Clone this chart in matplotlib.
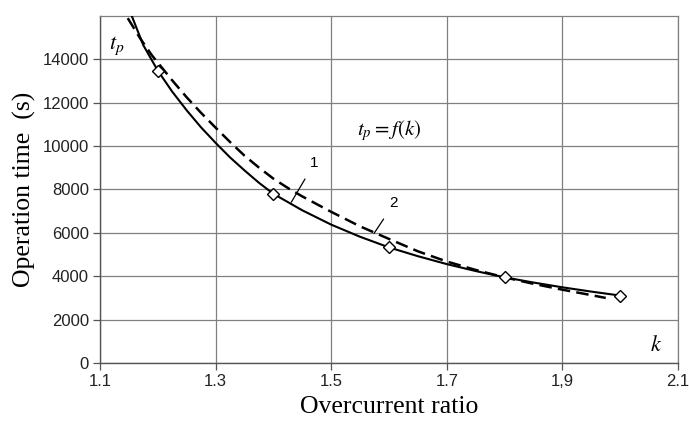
import matplotlib
matplotlib.use("Agg")
import matplotlib.pyplot as plt

# curve 1 (solid) and its marked points
k_solid = [1.155, 1.175, 1.2, 1.225, 1.25, 1.275, 1.3, 1.325, 1.35, 1.375, 1.4,
           1.45, 1.5, 1.55, 1.6, 1.65, 1.7, 1.75, 1.8, 1.85, 1.9, 1.95, 2.0]
t_solid = [16000, 14650, 13480, 12510, 11650, 10860, 10150, 9480, 8880, 8310, 7800,
           7040, 6380, 5820, 5330, 4925, 4560, 4240, 3950, 3710, 3490, 3292, 3110]

k_marks = [1.2, 1.4, 1.6, 1.8, 2.0]
t_marks = [13480, 7800, 5330, 3950, 3110]

# curve 2 (dashed)
k_dash = [1.148, 1.17, 1.19, 1.225, 1.25, 1.275, 1.3, 1.325, 1.35, 1.375, 1.4,
          1.425, 1.45, 1.5, 1.55, 1.6, 1.65, 1.7, 1.75, 1.8, 1.85, 1.9, 1.94, 1.975]
t_dash = [15900, 14950, 14180, 13030, 12250, 11530, 10850, 10190, 9560, 9010, 8500,
          8070, 7680, 6970, 6300, 5720, 5150, 4680, 4290, 3950, 3650, 3380, 3180, 3000]

x_ticks = [1.1, 1.3, 1.5, 1.7, 1.9, 2.1]
x_labels = ["1.1", "1.3", "1.5", "1.7", "1,9", "2.1"]
y_ticks = [0, 2000, 4000, 6000, 8000, 10000, 12000, 14000]

plt.rcParams["mathtext.fontset"] = "stix"
serif = "Liberation Serif"
sans = "Liberation Sans"

fig = plt.figure(figsize=(6.89, 4.25), dpi=100)
ax = fig.add_axes([100 / 689, 1 - 363 / 425, 578 / 689, 347 / 425])

ax.plot(k_dash, t_dash, color="black", lw=1.8, ls=(0, (5, 2.5)), zorder=3)
ax.plot(k_solid, t_solid, color="black", lw=1.5, zorder=4)
ax.plot(k_marks, t_marks, ls="none", marker="D", ms=6, mfc="white",
        mec="black", mew=1.0, zorder=5)

ax.set_xlim(1.1, 2.1)
ax.set_ylim(0, 16000)
ax.set_xticks(x_ticks)
ax.set_xticklabels(x_labels)
ax.set_yticks(y_ticks)
ax.grid(True, color="#808080", lw=0.9)
ax.set_axisbelow(True)
for side in ("top", "right"):
    ax.spines[side].set_color("#808080")
    ax.spines[side].set_linewidth(0.9)
for side in ("left", "bottom"):
    ax.spines[side].set_color("#555555")
    ax.spines[side].set_linewidth(1.0)
ax.tick_params(length=5, width=0.9, color="#555555", pad=3,
               labelsize=12, labelcolor="#222222")
for lab in ax.get_xticklabels() + ax.get_yticklabels():
    lab.set_family(sans)

ax.set_xlabel("Overcurrent ratio", family=serif, fontsize=18.5, labelpad=5)
ax.set_ylabel("Operation time  (s)", family=serif, fontsize=18.5, labelpad=5)

ax.text(1.129, 14640, "$t_p$", fontsize=16, ha="center", va="center")
ax.text(2.063, 830, "$k$", fontsize=16, ha="center", va="center")
ax.text(1.6, 10730, "$t_p = f(k)$", fontsize=15, ha="center", va="center")

ax.annotate("1", xy=(1.431, 7414), xytext=(1.4707, 9210), family=sans,
            fontsize=11, ha="center", va="center",
            arrowprops=dict(arrowstyle="-", color="black", lw=0.9,
                            shrinkA=5, shrinkB=0))
ax.annotate("2", xy=(1.574, 5973), xytext=(1.6086, 7355), family=sans,
            fontsize=11, ha="center", va="center",
            arrowprops=dict(arrowstyle="-", color="black", lw=0.9,
                            shrinkA=5, shrinkB=0))

fig.savefig("out.png", dpi=100)
